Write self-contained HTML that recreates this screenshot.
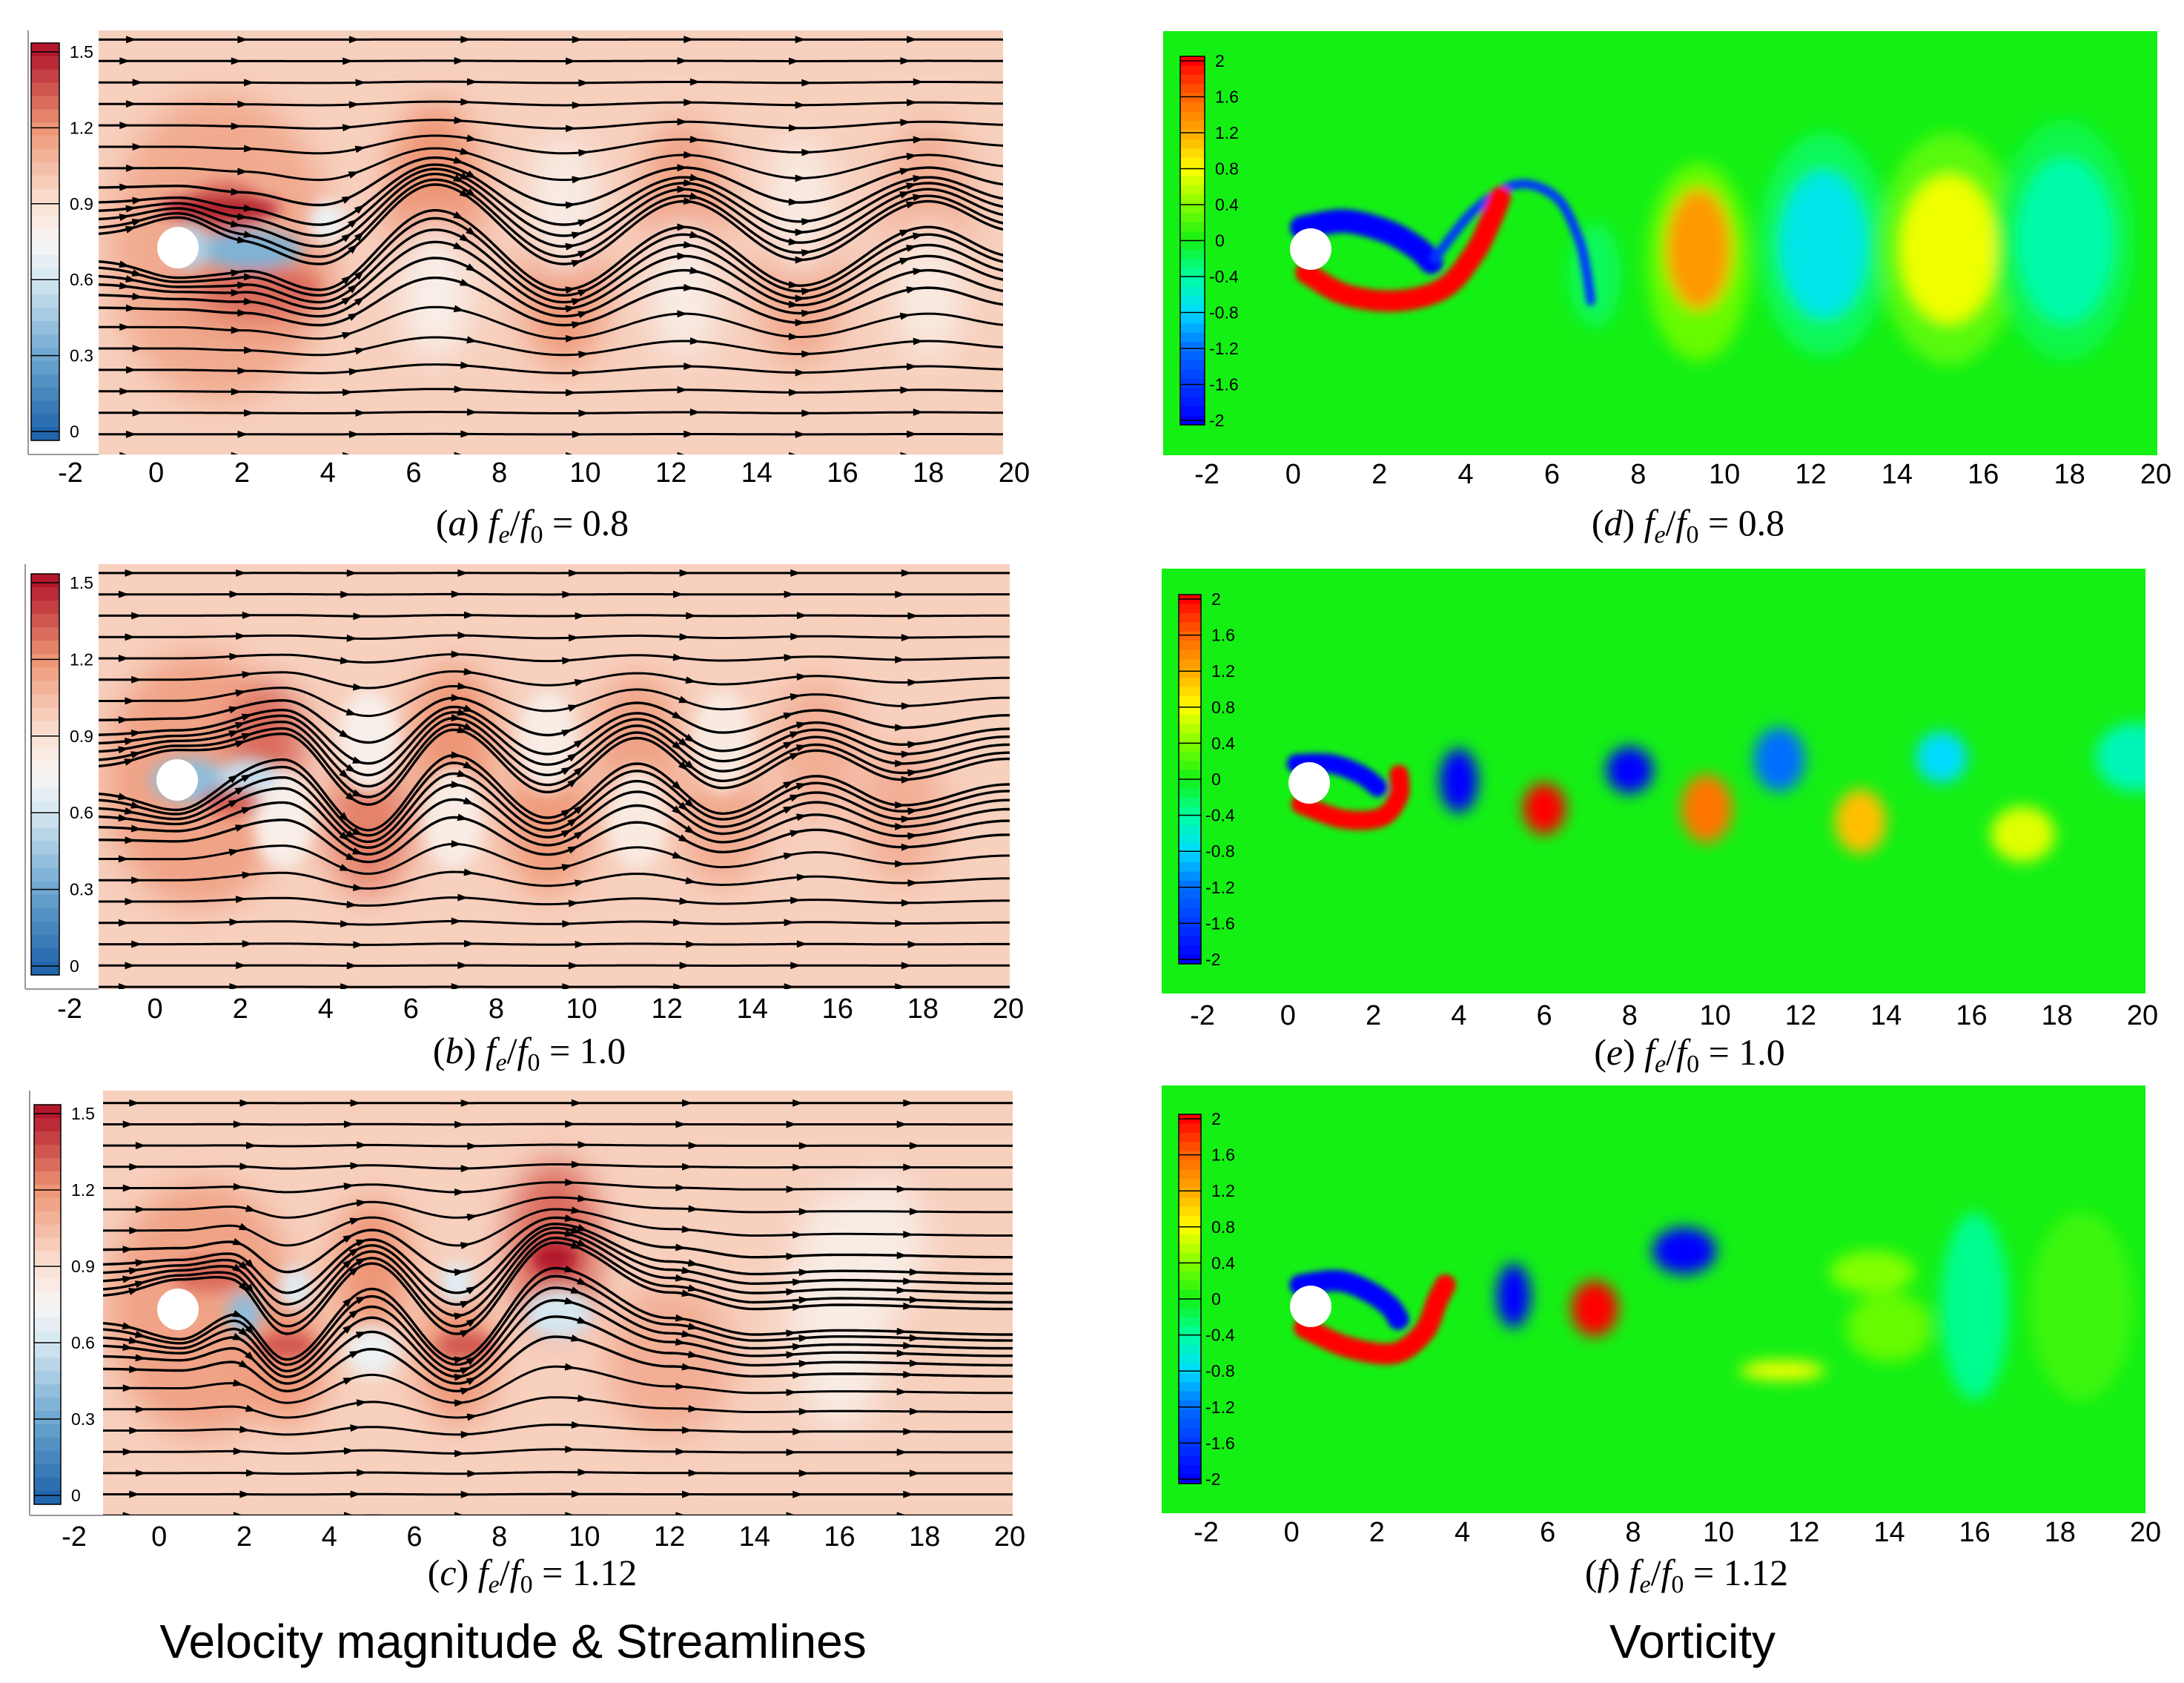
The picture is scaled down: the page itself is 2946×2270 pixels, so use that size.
<!DOCTYPE html>
<html><head><meta charset="utf-8">
<style>
html,body{margin:0;padding:0;background:#fff;}
svg{display:block;}
.tick{font-family:"Liberation Sans",sans-serif;font-size:38px;fill:#000;}
.cb{font-family:"Liberation Sans",sans-serif;font-size:23px;fill:#000;}
.cap{font-family:"Liberation Serif",serif;font-size:50px;fill:#000;}
.title{font-family:"Liberation Sans",sans-serif;font-size:64px;fill:#000;}
</style></head>
<body>
<svg id="fig" width="2946" height="2270" viewBox="0 0 2946 2270" xmlns="http://www.w3.org/2000/svg">
<defs>
<filter id="blurBig" x="-50%" y="-50%" width="200%" height="200%"><feGaussianBlur stdDeviation="22"/></filter>
<filter id="blurMid" x="-50%" y="-50%" width="200%" height="200%"><feGaussianBlur stdDeviation="10"/></filter>
<filter id="blurSm" x="-50%" y="-50%" width="200%" height="200%"><feGaussianBlur stdDeviation="4"/></filter>
</defs>
<text class="title" x="692" y="2236" text-anchor="middle">Velocity magnitude &amp; Streamlines</text>
<text class="title" x="2283" y="2236" text-anchor="middle">Vorticity</text>
</svg>
<script>
// ---------- data ----------
const xTicks = [-2,0,2,4,6,8,10,12,14,16,18,20];
const velCbTicks = [0,0.3,0.6,0.9,1.2,1.5];
const vorCbTicks = [-2,-1.6,-1.2,-0.8,-0.4,0,0.4,0.8,1.2,1.6,2];
const streamBase = [-4.85,-4.35,-3.85,-3.35,-2.85,-2.35,-1.85,-1.4,-1.1,-0.85,-0.65,-0.45,-0.3,0.3,0.45,0.65,0.85,1.05,1.4,1.85,2.35,2.85,3.35,3.85,4.35,4.85];
const arrowX = [-0.6,2,4.6,7.2,9.8,12.4,15,17.6];
// wake centreline per panel
const aCenterX = [-1.4,0.5,2,3.8,6.5,9.5,12.3,15,18,20];
const aCenterY = [0,0,-0.2,-0.7,1.2,-0.7,0.8,-0.6,0.8,0.1];
const bCenterX = [-1.4,0.5,3,5,7,9.2,11.3,13.3,15.5,17.5,20];
const bCenterY = [0,0,0.8,-0.9,0.9,-0.6,0.7,-0.5,0.4,-0.3,0.2];
const cCenterX = [-1.4,0.5,1.7,3,5,7,9.3,12,14,16,20];
const cCenterY = [0,0,0.3,-0.9,0.8,-0.9,1.3,0.1,-0.3,-0.2,-0.3];
// velocity blobs: x, y, rx, ry, value
const aBlobX = [1.5,2.3,6.5,9.5,12.3,15,18,1.6,2.5,6.5,9.5,12.3,15,18,1.5,2.2,4,0.8];
const aBlobY = [0,-1.0,1.2,-0.8,1.0,-0.8,1.0,0.95,-1.0,-1.0,1.0,-1.0,1.0,-1.0,0.9,-0.05,0.6,0];
const aBlobRx= [2.6,1.8,1.1,1.0,1.0,1.0,1.0,0.9,1.3,0.8,0.8,0.8,0.8,0.8,1.4,1.2,0.45,0.4];
const aBlobRy= [3.6,0.9,2.2,2.0,2.0,2.0,2.0,0.6,0.5,1.6,1.6,1.6,1.6,1.6,0.3,0.45,0.5,0.5];
const aBlobV = [1.12,1.25,1.2,1.18,1.15,1.12,1.1,1.3,1.3,0.8,0.82,0.82,0.84,0.84,1.5,0.35,0.7,0.5];
const bBlobX = [1,2.6,5,7,9.2,11.3,13.3,15.5,17.5,3,5,7,9.2,11.3,13.3,0.8,2.2,1.8];
const bBlobY = [0,0.9,-1.1,1.0,-1.0,0.9,-0.9,0.8,-0.8,-0.9,0.9,-0.9,0.9,-0.9,0.9,0,0.1,-0.5];
const bBlobRx= [2.2,0.9,1.0,1.0,1.0,1.0,1.0,1.0,1.0,0.7,0.7,0.7,0.7,0.7,0.7,0.9,0.7,0.7];
const bBlobRy= [3.0,1.4,1.6,1.7,1.7,1.6,1.6,1.6,1.6,1.2,1.2,1.2,1.2,1.2,1.2,0.5,0.4,0.3];
const bBlobV = [1.15,1.3,1.25,1.2,1.18,1.15,1.12,1.1,1.1,0.8,0.8,0.82,0.82,0.84,0.84,0.4,0.55,1.35];
const cBlobX = [1,3,5,7,9.3,12,16,1.2,3,7.2,9.3,5,3.2,7,9.4,2,17];
const cBlobY = [0,-1.1,1.0,-1.1,1.5,-1.2,0,0.8,-0.85,-0.85,1.2,-1.0,0.5,0.6,-0.1,-0.1,1.5];
const cBlobRx= [2.2,0.9,0.9,0.9,1.1,1.5,1.2,0.9,0.7,0.7,0.55,0.6,0.4,0.4,0.8,0.4,1.0];
const cBlobRy= [3.0,1.6,1.6,1.6,2.0,1.8,2.8,0.4,0.3,0.3,0.4,0.6,0.5,0.5,0.6,0.5,1.6];
const cBlobV = [1.15,1.2,1.2,1.2,1.3,1.1,0.82,1.3,1.35,1.35,1.5,0.7,0.65,0.65,0.6,0.4,0.82];
// vorticity blobs: x, y, rx, ry, value (halos first, cores after)
const dBlobX = [9.4,12.3,15.2,17.9,7,9.4,12.3,15.2,17.9];
const dBlobY = [-0.3,0.1,0,0.2,-0.6,0,0.1,0,0.2];
const dBlobRx= [1.2,1.5,1.6,1.6,0.6,0.75,1.0,1.1,1.1];
const dBlobRy= [2.3,2.6,2.7,2.8,1.2,1.4,1.7,1.7,1.9];
const dBlobV = [0.3,-0.2,0.25,-0.15,-0.2,1.3,-0.7,0.75,-0.45];
const eBlobX = [4,6,8,9.8,11.5,13.4,15.3,17.2,19.8];
const eBlobY = [0.05,-0.6,0.3,-0.6,0.55,-0.9,0.6,-1.2,0.6];
const eBlobRx= [0.45,0.5,0.55,0.6,0.6,0.6,0.6,0.75,0.9];
const eBlobRy= [0.75,0.6,0.55,0.8,0.75,0.75,0.6,0.65,0.8];
const eBlobV = [-2,2,-2,1.5,-1.2,1.1,-0.8,0.7,-0.5];
const fBlobX = [5.2,7.1,9.2,11.5,13.6,16,14,18.5];
const fBlobY = [0.25,-0.05,1.3,-1.5,0.8,0,-0.5,0];
const fBlobRx= [0.4,0.55,0.75,1.0,1.0,0.8,1.0,1.2];
const fBlobRy= [0.75,0.65,0.55,0.22,0.5,2.2,0.8,2.2];
const fBlobV = [-2,2,-2,0.8,0.4,-0.35,0.3,0.15];
// vorticity filaments
const dBlueFilX = [0.2,1.2,2.2,2.9,3.2];
const dBlueFilY = [0.5,0.65,0.4,0,-0.3];
const dThinBlueX = [3.3,4.2,5.2,6.1,6.6,6.8,6.9];
const dThinBlueY = [-0.2,0.9,1.5,1.2,0.3,-0.5,-1.2];
const dRedFilX = [0.3,1.2,2.4,3.5,4.2,4.6,4.8];
const dRedFilY = [-0.55,-1.05,-1.2,-0.9,-0.1,0.7,1.2];
const eBlueFilX = [0.2,1,1.7,2.1];
const eBlueFilY = [0.45,0.45,0.2,-0.1];
const eRedFilX = [0.3,1.3,2.2,2.6,2.6];
const eRedFilY = [-0.5,-0.85,-0.8,-0.3,0.2];
const fBlueFilX = [0.2,1.1,1.8,2.3,2.5];
const fBlueFilY = [0.5,0.6,0.35,0,-0.3];
const fRedFilX = [0.3,1.3,2.4,3.1,3.4,3.6];
const fRedFilY = [-0.5,-0.95,-1.1,-0.6,0.1,0.5];

// ---------- layout ----------
const NS = "http://www.w3.org/2000/svg";
const fig = document.getElementById('fig');
function mk(tag, attrs, parent){ const e=document.createElementNS(NS,tag); for(const k in attrs) e.setAttribute(k,attrs[k]); (parent||fig).appendChild(e); return e; }

const panels = [
 {id:'a',kind:'vel',L:133,T:41,R:1353,B:613,t0:95,t1:1368,cx:240,cy:334,cb:[42,58,80,594],frame:38,tickY:650,capX:718,capY:722,lab:'a',val:'0.8',cX:aCenterX,cY:aCenterY,bx:aBlobX,by:aBlobY,brx:aBlobRx,bry:aBlobRy,bv:aBlobV},
 {id:'b',kind:'vel',L:133,T:761,R:1362,B:1334,t0:94,t1:1360,cx:239,cy:1052,cb:[42,774,80,1315],frame:34,tickY:1373,capX:714,capY:1434,lab:'b',val:'1.0',cX:bCenterX,cY:bCenterY,bx:bBlobX,by:bBlobY,brx:bBlobRx,bry:bBlobRy,bv:bBlobV},
 {id:'c',kind:'vel',L:139,T:1471,R:1366,B:2044,t0:100,t1:1362,cx:240,cy:1766,cb:[46,1490,82,2029],frame:40,tickY:2085,capX:718,capY:2138,lab:'c',val:'1.12',cX:cCenterX,cY:cCenterY,bx:cBlobX,by:cBlobY,brx:cBlobRx,bry:cBlobRy,bv:cBlobV},
 {id:'d',kind:'vor',L:1569,T:42,R:2910,B:614,t0:1628,t1:2908,cx:1768,cy:336,cb:[1592,76,1625,573],tickY:652,capX:2277,capY:722,lab:'d',val:'0.8',bx:dBlobX,by:dBlobY,brx:dBlobRx,bry:dBlobRy,bv:dBlobV,fil:[[dBlueFilX,dBlueFilY,-2.2,0.55],[dThinBlueX,dThinBlueY,-1.6,0.22],[dRedFilX,dRedFilY,2.2,0.5]]},
 {id:'e',kind:'vor',L:1567,T:767,R:2894,B:1340,t0:1622,t1:2890,cx:1766,cy:1056,cb:[1590,802,1620,1300],tickY:1382,capX:2279,capY:1436,lab:'e',val:'1.0',bx:eBlobX,by:eBlobY,brx:eBlobRx,bry:eBlobRy,bv:eBlobV,fil:[[eBlueFilX,eBlueFilY,-2.2,0.45],[eRedFilX,eRedFilY,2.2,0.45]]},
 {id:'f',kind:'vor',L:1567,T:1464,R:2894,B:2041,t0:1627,t1:2894,cx:1768,cy:1762,cb:[1590,1503,1620,2001],tickY:2079,capX:2275,capY:2138,lab:'f',val:'1.12',bx:fBlobX,by:fBlobY,brx:fBlobRx,bry:fBlobRy,bv:fBlobV,fil:[[fBlueFilX,fBlueFilY,-2.2,0.5],[fRedFilX,fRedFilY,2.2,0.5]]}
];

function lerpC(stops, v){
  if(v<=stops[0][0]) return stops[0][1];
  for(let i=1;i<stops.length;i++){ if(v<=stops[i][0]){ const [v0,c0]=stops[i-1],[v1,c1]=stops[i]; const t=(v-v0)/(v1-v0);
    return c0.map((c,k)=>Math.round(c+(c1[k]-c)*t)); } }
  return stops[stops.length-1][1];
}
const velStops=[[0,[33,102,172]],[0.3,[110,168,208]],[0.6,[214,232,242]],[0.75,[247,245,244]],[0.9,[250,226,212]],[1.2,[238,150,118]],[1.5,[178,24,43]]];
const vorStops=[[-2,[0,0,255]],[-1.2,[0,110,255]],[-0.8,[0,220,255]],[-0.4,[0,255,160]],[0,[20,240,20]],[0.4,[130,255,0]],[0.8,[255,255,0]],[1.2,[255,170,0]],[1.6,[255,100,0]],[2,[255,0,0]]];
function colArr(stops,v){ return 'rgb('+lerpC(stops,v).join(',')+')'; }

function interp(xs, ys, x){
  if(x<=xs[0]) return ys[0];
  for(let i=1;i<xs.length;i++){ if(x<=xs[i]){ const t=(x-xs[i-1])/(xs[i]-xs[i-1]); const s=(1-Math.cos(Math.PI*t))/2; return ys[i-1]+(ys[i]-ys[i-1])*s; } }
  return ys[ys.length-1];
}

panels.forEach(p=>{
  const sx = x => p.t0 + (x+2)*(p.t1-p.t0)/22;
  const unit = (p.t1-p.t0)/22;
  const sy = y => p.cy - y*unit;
  const g = mk('g',{});
  
  
  const clip = mk('clipPath',{id:'clip-'+p.id}, fig.querySelector('defs'));
  mk('rect',{x:p.L,y:p.T,width:p.R-p.L,height:p.B-p.T},clip);
  const plot = mk('g',{'clip-path':'url(#clip-'+p.id+')'},g);
  
  
  const stops = p.kind==='vel'?velStops:vorStops;
  const bg = mk('rect',{x:p.L,y:p.T,width:p.R-p.L,height:p.B-p.T,fill:p.kind==='vel'?'#f7d0be':'rgb(20,240,20)'},plot);
  
  
  const blBig = mk('g',{filter:p.kind==='vel'?'url(#blurBig)':'url(#blurMid)'},plot);
  const blSmall = mk('g',{filter:'url(#blurMid)'},plot);
  for(let i=0;i<p.bx.length;i++){
    const small = p.kind==='vel' && Math.min(p.brx[i],p.bry[i])<0.75;
    const e = mk('ellipse',{cx:sx(p.bx[i]),cy:sy(p.by[i]),rx:p.brx[i]*unit,ry:p.bry[i]*unit,fill:colArr(stops,p.bv[i])},small?blSmall:blBig);
    
    
  }
  if(p.fil){
    const fg = mk('g',{filter:'url(#blurSm)'},plot);
    p.fil.forEach(f=>{
      const pts=[];
      for(let i=0;i<f[0].length;i++) pts.push([sx(f[0][i]),sy(f[1][i])]);
      let d='M'+pts[0].join(',');
      for(let i=1;i<pts.length;i++){ const p0=pts[Math.max(0,i-2)],p1=pts[i-1],p2=pts[i],p3=pts[Math.min(pts.length-1,i+1)];
        const c1=[p1[0]+(p2[0]-p0[0])/6,p1[1]+(p2[1]-p0[1])/6], c2=[p2[0]-(p3[0]-p1[0])/6,p2[1]-(p3[1]-p1[1])/6];
        d+=' C'+c1.join(',')+' '+c2.join(',')+' '+p2.join(','); }
      const e = mk('path',{d:d,fill:'none',stroke:colArr(stops,f[2]),'stroke-width':f[3]*unit,'stroke-linecap':'round'},fg);
      
      
    });
  }
  if(p.kind==='vel'){
    const sg = mk('g',{},plot);
    
    
    const x0=(p.L-p.t0)/unit-2, x1=(p.R-p.t0)/unit-2;
    streamBase.forEach((y0,li)=>{
      const w = Math.exp(-Math.pow(y0/1.9,2));
      const yf = x => { let y=y0+interp(p.cX,p.cY,x)*w;
        const dx=x-0.5; y += Math.sign(y0)*0.45*Math.exp(-dx*dx/1.2)*Math.exp(-y0*y0/0.8); return y; };
      let d='';
      for(let x=x0;x<=x1+0.1;x+=0.1){ d+=(d?' L':'M')+sx(x).toFixed(1)+','+sy(yf(x)).toFixed(1); }
      const e = mk('path',{d:d,fill:'none',stroke:'#000','stroke-width':Math.abs(y0)<1.5?3.4:3},sg);
      
      
      arrowX.forEach(ax=>{
        const x = ax + ((li%3)-1)*0.15;
        const X=sx(x),Y=sy(yf(x)), X2=sx(x+0.05),Y2=sy(yf(x+0.05));
        const ang=Math.atan2(Y2-Y,X2-X)*180/Math.PI;
        const a = mk('path',{d:'M8,0 L-6,-5 L-6,5 Z',fill:'#000',transform:'translate('+X+','+Y+') rotate('+ang+')'},sg);
        
        
      });
    });
  }
  const cyl = mk('ellipse',{cx:p.cx,cy:p.cy,rx:28,ry:28,fill:'#fff'},plot);
  
  
  if(p.kind==='vel'){
    mk('rect',{x:p.frame,y:p.T,width:p.L-p.frame,height:p.B-p.T,fill:'#fff'},g);
    mk('line',{x1:p.frame,y1:p.T,x2:p.frame,y2:p.B,stroke:'#999','stroke-width':2},g);
    mk('line',{x1:p.frame,y1:p.B,x2:p.L,y2:p.B,stroke:'#999','stroke-width':2},g);
  }
  const [cx0,cy0,cx1,cy1]=p.cb;
  const cbg = mk('g',{},g);
  
  
  const ticks = p.kind==='vel'?velCbTicks:vorCbTicks;
  const vmin=ticks[0], vmax=ticks[ticks.length-1];
  const N=p.kind==='vel'?30:40;
  const pad = p.kind==='vel'?12:6;
  const vy = v => cy1-pad - (v-vmin)/(vmax-vmin)*(cy1-cy0-2*pad);
  for(let i=0;i<N;i++){
    const ya=cy0+(cy1-cy0)*i/N;
    const vv = vmin + ( (cy1-pad) - (ya+(cy1-cy0)/N/2) )/(cy1-cy0-2*pad)*(vmax-vmin);
    mk('rect',{x:cx0,y:ya,width:cx1-cx0,height:(cy1-cy0)/N+0.6,fill:colArr(stops,vv)},cbg);
  }
  mk('rect',{x:cx0,y:cy0,width:cx1-cx0,height:cy1-cy0,fill:'none',stroke:'#000','stroke-width':1.5},cbg);
  ticks.forEach(v=>{
    const y=vy(v);
    mk('line',{x1:cx0,y1:y,x2:cx1,y2:y,stroke:'#000','stroke-width':1.5},cbg);
    const t = mk('text',{x:cx1+(v<0?6:14),y:y+8,class:'cb'},cbg);
    t.textContent = String(v);
    
    
  });
  xTicks.forEach(v=>{
    const t = mk('text',{x:sx(v),y:p.tickY,class:'tick','text-anchor':'middle'},g);
    t.textContent = String(v);
    
    
  });
  const cap = mk('text',{x:p.capX,y:p.capY,class:'cap','text-anchor':'middle'},g);
  
  
  cap.innerHTML = '(<tspan font-style="italic">'+p.lab+'</tspan>) <tspan font-style="italic">f</tspan><tspan font-style="italic" font-size="34" dy="10">e</tspan><tspan dy="-10">/</tspan><tspan font-style="italic">f</tspan><tspan font-size="34" dy="10">0</tspan><tspan dy="-10"> = '+p.val+'</tspan>';
});
</script>
</body></html>
